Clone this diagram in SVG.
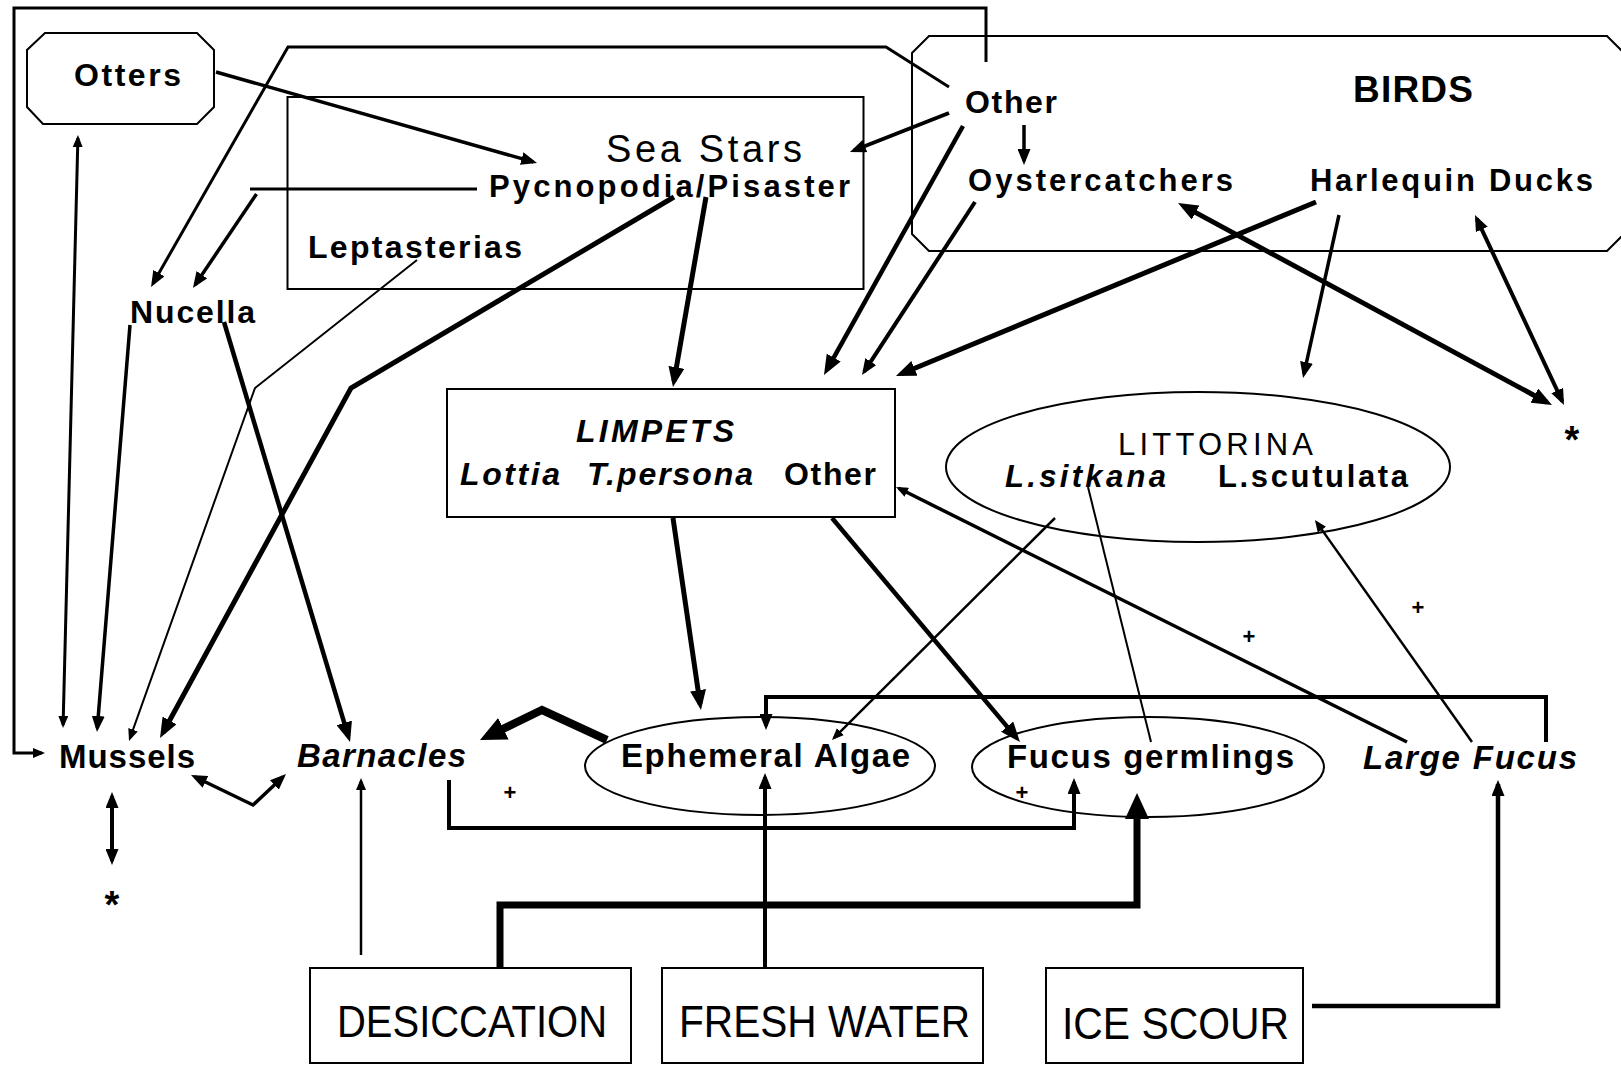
<svg xmlns="http://www.w3.org/2000/svg" width="1621" height="1066" viewBox="0 0 1621 1066">
<style>
.t{font-family:"Liberation Sans",Arial,Helvetica,sans-serif;font-weight:bold;fill:#000}
.n{font-weight:normal}
.i{font-style:italic}
.box{fill:none;stroke:#000;stroke-width:2}
.c{fill:none;stroke:#000;stroke-linejoin:miter}
</style>
<defs>
<marker id="as" viewBox="0 0 12 10" refX="9" refY="5" markerWidth="12" markerHeight="10" markerUnits="userSpaceOnUse" orient="auto-start-reverse"><path d="M0,0L12,5L0,10z"/></marker>
<marker id="am" viewBox="0 0 16 13" refX="12" refY="6.5" markerWidth="16" markerHeight="13" markerUnits="userSpaceOnUse" orient="auto-start-reverse"><path d="M0,0L16,6.5L0,13z"/></marker>
<marker id="al" viewBox="0 0 20 16" refX="14" refY="8" markerWidth="20" markerHeight="16" markerUnits="userSpaceOnUse" orient="auto-start-reverse"><path d="M0,0L20,8L0,16z"/></marker>
<marker id="ax" viewBox="0 0 26 24" refX="17" refY="12" markerWidth="26" markerHeight="24" markerUnits="userSpaceOnUse" orient="auto-start-reverse"><path d="M0,0L26,12L0,24z"/></marker>
</defs>
<rect width="1621" height="1066" fill="#fff"/>
<g id="connectors">
<path class="c" stroke-width="3" d="M986,62V8H14V753H42" marker-end="url(#as)"/>
<path class="c" stroke-width="3" d="M949,87L886,47H288L153,283.5" marker-end="url(#am)"/>
<path class="c" stroke-width="3.5" d="M216,72L533.2,161.9" marker-end="url(#am)"/>
<path class="c" stroke-width="3" d="M250,189H477"/>
<path class="c" stroke-width="3.5" d="M256.5,194L195.2,284.7" marker-end="url(#am)"/>
<path class="c" stroke-width="3" d="M77.9,138L63.1,725" marker-start="url(#as)" marker-end="url(#as)"/>
<path class="c" stroke-width="3.5" d="M130,325L97.3,728" marker-end="url(#am)"/>
<path class="c" stroke-width="4.5" d="M224,322L348.3,736.3" marker-end="url(#al)"/>
<path class="c" stroke-width="2" d="M417,260L255,388L130,738.2" marker-end="url(#as)"/>
<path class="c" stroke-width="5" d="M674,197L351,388L162.9,732.7" marker-end="url(#al)"/>
<path class="c" stroke-width="5" d="M706,197L674,381.1" marker-end="url(#al)"/>
<path class="c" stroke-width="4" d="M949,113L853.7,150.5" marker-end="url(#am)"/>
<path class="c" stroke-width="3.5" d="M1024,125V161" marker-end="url(#am)"/>
<path class="c" stroke-width="4.5" d="M963,126L826.9,369.8" marker-end="url(#al)"/>
<path class="c" stroke-width="4" d="M975,202L864.2,371.7" marker-end="url(#am)"/>
<path class="c" stroke-width="5" d="M1316,202L901.5,373.7" marker-end="url(#al)"/>
<path class="c" stroke-width="3.5" d="M1339,215L1303.9,374.1" marker-end="url(#am)"/>
<path class="c" stroke-width="5" d="M1183.3,205.9L1546.7,402.2" marker-start="url(#al)" marker-end="url(#al)"/>
<path class="c" stroke-width="4" d="M1476.7,218.6L1562.3,401.4" marker-start="url(#am)" marker-end="url(#am)"/>
<path class="c" stroke-width="5" d="M673,518L700.1,704.1" marker-end="url(#al)"/>
<path class="c" stroke-width="4.5" d="M832,518L1016.1,737.4" marker-end="url(#al)"/>
<path class="c" stroke-width="2.5" d="M1055,518L834.1,737.9" marker-end="url(#as)"/>
<path class="c" stroke-width="3.5" d="M1407,742L898.7,488.3" marker-end="url(#as)"/>
<path class="c" stroke-width="2.5" d="M1472,742L1316.7,522.4" marker-end="url(#as)"/>
<path class="c" stroke-width="2" d="M1151,742L1088,487"/>
<path class="c" stroke-width="4" d="M1546,742V697H766V726" marker-end="url(#am)"/>
<path class="c" stroke-width="4" d="M449,780V828H1074V782" marker-end="url(#am)"/>
<path class="c" stroke-width="2.5" d="M361,955V781" marker-end="url(#as)"/>
<path class="c" stroke-width="7" d="M500,968V905H1137V802" marker-end="url(#ax)"/>
<path class="c" stroke-width="4" d="M765,968V777" marker-end="url(#am)"/>
<path class="c" stroke-width="4.5" d="M1312,1006H1498V784" marker-end="url(#am)"/>
<path class="c" stroke-width="8" d="M607,740L542,710L488.1,736.1" marker-end="url(#ax)"/>
<path class="c" stroke-width="3.5" d="M194.6,776.7L253,805L283.1,776.7" marker-start="url(#am)" marker-end="url(#am)"/>
<path class="c" stroke-width="4" d="M112,796V861" marker-start="url(#am)" marker-end="url(#am)"/>
</g>
<g id="otters"><path class="box" d="M45,33H197L214,50V107L197,124H43L27,107V50Z"/><text class="t" x="74" y="86" font-size="32" textLength="107">Otters</text></g>
<g id="sea-stars"><rect class="box" x="287.5" y="97" width="576" height="192"/><text class="t n" x="606" y="162" font-size="38" textLength="196">Sea Stars</text></g>
<g id="pycnopodia"><text class="t" x="489" y="197" font-size="31" textLength="361">Pycnopodia/Pisaster</text></g>
<g id="leptasterias"><text class="t" x="308" y="258" font-size="32" textLength="214">Leptasterias</text></g>
<g id="nucella"><text class="t" x="130" y="323" font-size="32" textLength="125">Nucella</text></g>
<g id="birds"><path class="box" d="M929,36H1607L1640,69V218L1607,251H929L912,234V53Z"/><text class="t" x="1353" y="102" font-size="37" textLength="120">BIRDS</text></g>
<g id="other-birds"><text class="t" x="965" y="113" font-size="32" textLength="92">Other</text></g>
<g id="oystercatchers"><text class="t" x="968" y="191" font-size="31" textLength="265">Oystercatchers</text></g>
<g id="harlequin-ducks"><text class="t" x="1310" y="191" font-size="31" textLength="283">Harlequin Ducks</text></g>
<g id="limpets"><rect class="box" x="447" y="389" width="448" height="128"/>
<text class="t i" x="576" y="442" font-size="32" textLength="158">LIMPETS</text>
<text class="t i" x="460" y="485" font-size="32" textLength="100">Lottia</text>
<text class="t i" x="587" y="485" font-size="32" textLength="166">T.persona</text>
<text class="t" x="784" y="485" font-size="32" textLength="92">Other</text></g>
<g id="littorina"><ellipse class="box" cx="1198" cy="467" rx="252" ry="75"/>
<text class="t n" x="1118" y="455" font-size="31" textLength="195">LITTORINA</text>
<text class="t i" x="1005" y="487" font-size="31" textLength="161">L.sitkana</text>
<text class="t" x="1218" y="487" font-size="31" textLength="190">L.scutulata</text></g>
<g id="mussels"><text class="t" x="59" y="768" font-size="33" textLength="136">Mussels</text></g>
<g id="barnacles"><text class="t i" x="297" y="767" font-size="33" textLength="169">Barnacles</text></g>
<g id="ephemeral-algae"><ellipse class="box" cx="760" cy="766" rx="175" ry="49"/><text class="t" x="621" y="767" font-size="33" textLength="289">Ephemeral Algae</text></g>
<g id="fucus-germlings"><ellipse class="box" cx="1148" cy="767" rx="176" ry="50"/><text class="t" x="1007" y="768" font-size="33" textLength="287">Fucus germlings</text></g>
<g id="large-fucus"><text class="t i" x="1363" y="769" font-size="33" textLength="214">Large Fucus</text></g>
<g id="desiccation"><rect class="box" x="310" y="968" width="321" height="95"/><text class="t n" x="337" y="1037" font-size="44" textLength="270" lengthAdjust="spacingAndGlyphs">DESICCATION</text></g>
<g id="fresh-water"><rect class="box" x="662" y="968" width="321" height="95"/><text class="t n" x="679" y="1037" font-size="44" textLength="291" lengthAdjust="spacingAndGlyphs">FRESH WATER</text></g>
<g id="ice-scour"><rect class="box" x="1046" y="968" width="257" height="95"/><text class="t n" x="1062" y="1039" font-size="44" textLength="227" lengthAdjust="spacingAndGlyphs">ICE SCOUR</text></g>
<g id="signs" class="t" text-anchor="middle">
<text x="112" y="918" font-size="38">*</text>
<text x="1572" y="453" font-size="38">*</text>
<text x="510" y="800" font-size="22">+</text>
<text x="1022" y="800" font-size="22">+</text>
<text x="1249" y="644" font-size="22">+</text>
<text x="1418" y="615" font-size="22">+</text>
</g>
</svg>
